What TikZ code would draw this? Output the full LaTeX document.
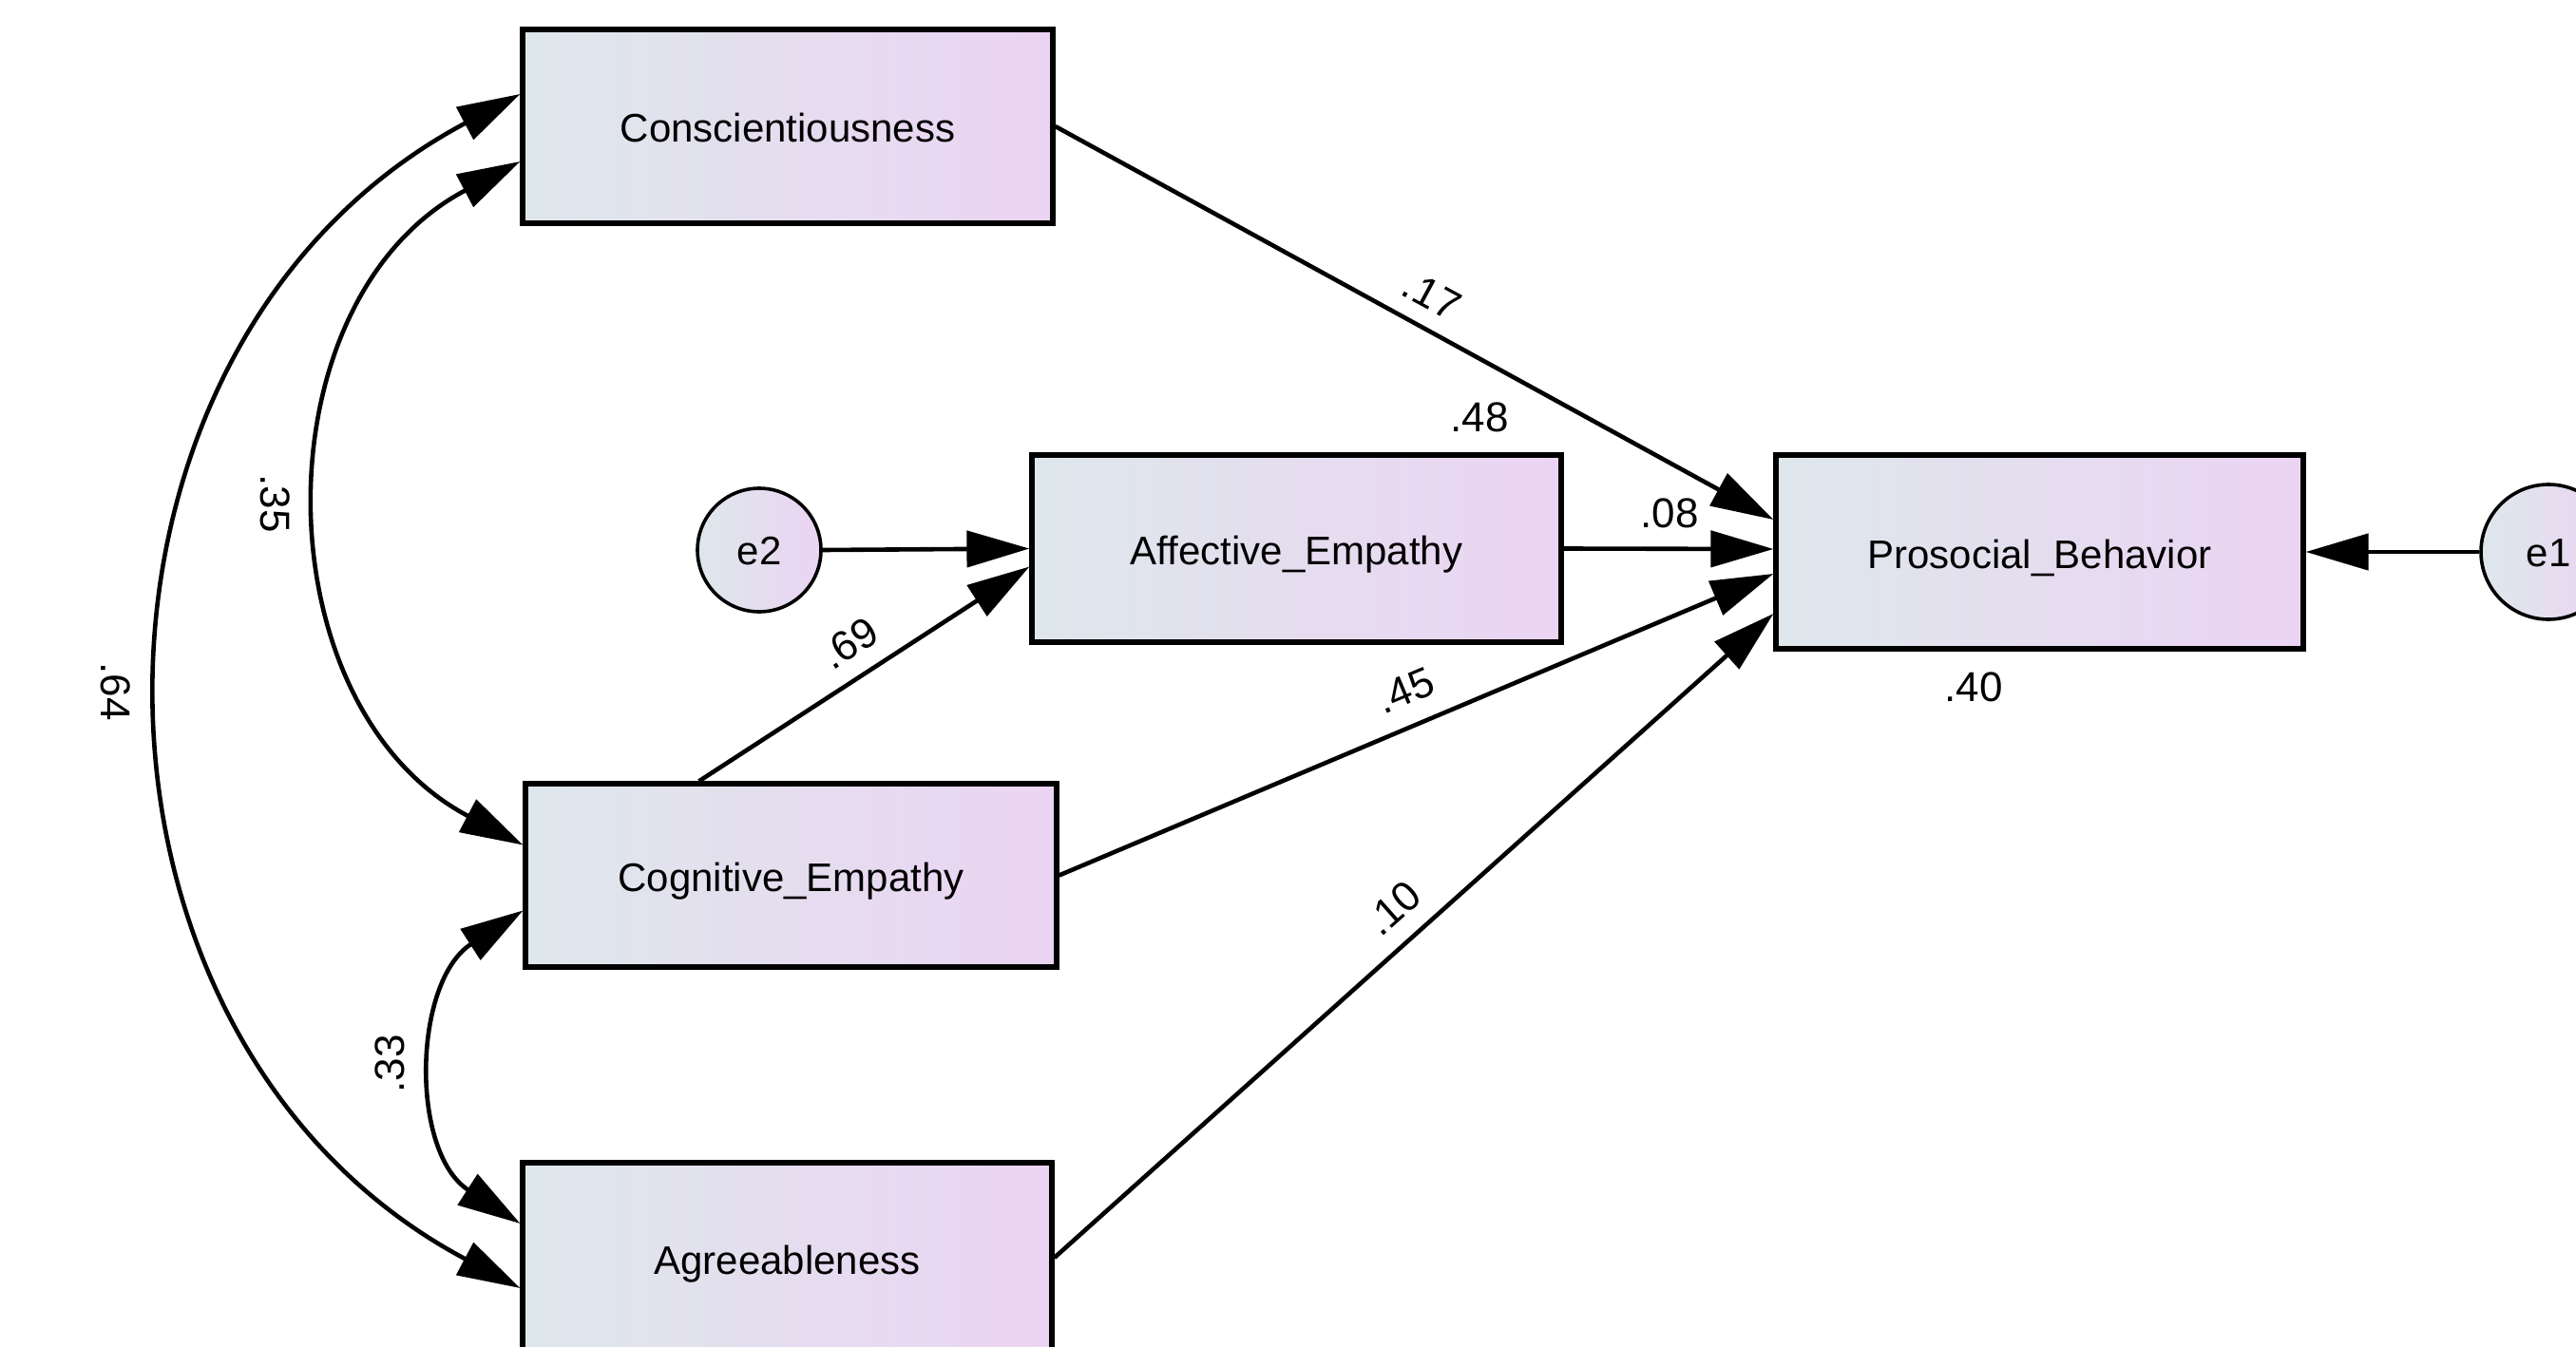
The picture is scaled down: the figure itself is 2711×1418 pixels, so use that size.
\documentclass[tikz,border=0pt]{standalone}
\usepackage{fontspec}
\setmainfont{Liberation Sans}
\usetikzlibrary{arrows.meta,calc}
\definecolor{boxL}{RGB}{222,231,235}
\definecolor{boxR}{RGB}{235,212,243}
\begin{document}
\begin{tikzpicture}[x=0.5pt,y=-0.5pt,
  var/.style={draw, line width=2.6pt, left color=boxL, right color=boxR, inner sep=0pt,
    text height=17pt, text depth=0pt, font=\fontsize{21}{25}\selectfont},
  err/.style={circle, draw, line width=1.8pt, left color=boxL, right color=boxR, inner sep=0pt,
    text height=15.5pt, text depth=0pt, font=\fontsize{21}{25}\selectfont},
  pathar/.style={line width=2.3pt, -{Triangle[length=33pt,width=19pt]}},
  covar/.style={line width=2.3pt, {Triangle[length=33pt,width=19pt]}-{Triangle[length=33pt,width=19pt]}},
  lab/.style={inner sep=0pt, font=\fontsize{22}{26}\selectfont}
]
\useasboundingbox (0,0) rectangle (2711,1418);

% variables
\node[var, minimum width=279pt, minimum height=102pt] (C) at (829,133) {Conscientiousness};
\node[var, minimum width=278.5pt, minimum height=98.5pt] (A) at (1364.5,577.5) {Affective\_Empathy};
\node[var, minimum width=277.5pt, minimum height=102pt] (P) at (2146.5,581) {Prosocial\_Behavior};
\node[var, minimum width=279.5pt, minimum height=96.5pt] (G) at (832.5,921.5) {Cognitive\_Empathy};
\node[var, minimum width=278.5pt, minimum height=100pt] (R) at (828.5,1324) {Agreeableness};
\node[err, minimum size=65pt] (e2) at (799,579) {e2};
\node[err, minimum size=71pt] (e1) at (2682,581) {e1};

% regression paths
\draw[pathar] (C.east) -- ($(P.west)+(0,-34)$);
\draw[pathar] (A.east) -- ($(P.west)+(0,-3)$);
\draw[pathar] (G.east) -- ($(P.west)+(0,23)$);
\draw[pathar] (R.east) -- ($(P.west)+(0,65)$);
\draw[pathar] (e2.east) -- (A.west);
\draw[pathar] ($(G.north)+(-97,0)$) -- ($(A.west)+(0,19)$);
\draw[pathar] (e1.west) -- (P.east);

% covariances
\draw[covar] ($(C.west)+(0,-34)$) .. controls +(-497,264) and +(-497,-264) .. ($(R.west)+(0,32)$);
\draw[covar] ($(C.west)+(0,37)$) .. controls +(-277,146) and +(-277,-146) .. ($(G.west)+(0,-32)$);
\draw[covar] ($(G.west)+(0,37)$) .. controls +(-116,75) and +(-116,-75) .. ($(R.west)+(0,-36)$);

% labels
\node[lab, rotate=-28.4] (l17) at (1507,311) {.17};
\node[lab] (l48) at (1557,439) {.48};
\node[lab] (l08) at (1757,540) {.08};
\node[lab, rotate=32.6] (l69) at (894,677) {.69};
\node[lab, rotate=22.8] (l45) at (1479,727) {.45};
\node[lab, rotate=41.7] (l10) at (1466,956) {.10};
\node[lab] (l40) at (2077,723) {.40};
\node[lab, rotate=-90] (l64) at (122,728) {.64};
\node[lab, rotate=-90] (l35) at (290,530) {.35};
\node[lab, rotate=90] (l33) at (410,1120) {.33};
\end{tikzpicture}
\end{document}
